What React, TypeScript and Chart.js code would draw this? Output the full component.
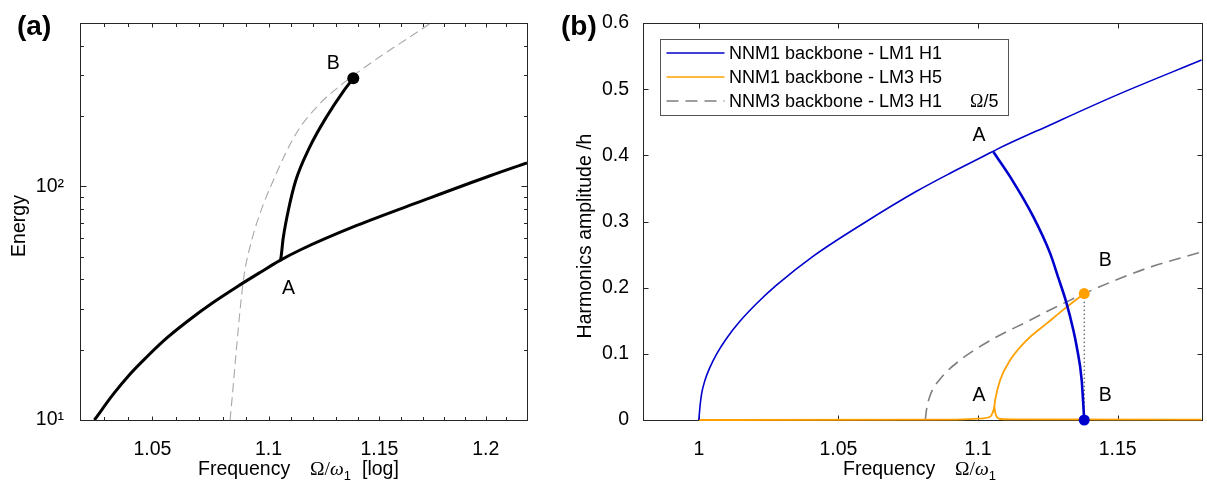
import React, { useEffect, useRef } from 'react';
import { Chart, registerables } from 'chart.js';

Chart.register(...registerables);

const SANS = '"Liberation Sans", Arimo, Arial, Helvetica, sans-serif';
const SERIF = '"Liberation Serif", "DejaVu Serif", "Times New Roman", serif';

// ---------------- Panel (a): energy vs frequency (log-log) ----------------
const energyMainFreq = [1.0259, 1.0337, 1.0406, 1.0476, 1.056, 1.066, 1.076, 1.0861, 1.0963, 1.1051, 1.114, 1.1396, 1.1704, 1.2021, 1.22];
const energyMainValue = [10.0, 12.9, 15.7, 18.6, 22.4, 27.0, 31.9, 37.1, 42.8, 48.2, 53.4, 68.0, 87.1, 111.0, 126.0];

const energyBranchFreq = [1.1051, 1.1053, 1.1065, 1.1088, 1.112, 1.1184, 1.1259, 1.1334, 1.138];
const energyBranchValue = [48.2, 48.4, 60.1, 79.2, 105.4, 147.8, 198.6, 254.5, 290];

const energyNNM3Freq = [1.0832, 1.089, 1.0919, 1.0963, 1.1021, 1.1122, 1.1227, 1.1332, 1.1454, 1.174];
const energyNNM3Value = [10, 39.7, 55.2, 76.7, 106, 168, 225, 275, 334, 500];

const energyPointBFreq = [1.138];
const energyPointBValue = [290];

const energyFreqTicks = [1.02, 1.03, 1.04, 1.05, 1.06, 1.07, 1.08, 1.09, 1.1, 1.11, 1.12, 1.13, 1.14, 1.15, 1.16, 1.17, 1.18, 1.19, 1.2, 1.21, 1.22];
const energyFreqLabelValues = [1.05, 1.1, 1.15, 1.2];
const energyFreqLabels = ['1.05', '1.1', '1.15', '1.2'];
const energyTicks = [10, 20, 30, 40, 50, 60, 70, 80, 90, 100, 200, 300, 400, 500];
const energyLabelValues = [10, 100];
const energyLabels = ['10\u00B9', '10\u00B2'];

const energyLetters = ['B', 'A'];
const energyLetterFreq = [1.1289, 1.1088];
const energyLetterValue = [336, 36.4];

// ---------------- Panel (b): harmonic amplitudes ----------------
const ampMainFreq = [1.0, 1.0004, 1.001, 1.0022, 1.004, 1.0064, 1.0099, 1.0147, 1.0207, 1.0278, 1.0411, 1.06, 1.0781, 1.09, 1.1049, 1.1067, 1.1258, 1.1496, 1.18];
const ampMainValue = [0, 0.02, 0.0398, 0.0602, 0.08, 0.1, 0.1233, 0.1492, 0.1761, 0.2037, 0.248, 0.3, 0.346, 0.373, 0.405, 0.409, 0.446, 0.491, 0.544];

const ampBranchFreq = [1.1055, 1.1115, 1.1198, 1.1258, 1.1288, 1.1315, 1.1341, 1.1353, 1.1371, 1.138];
const ampBranchValue = [0.405, 0.3675, 0.307, 0.2518, 0.214, 0.179, 0.136, 0.111, 0.06, 0];

const orangeBranchFreq = [1.0, 1.09, 1.1, 1.1043, 1.1053, 1.1058, 1.1061, 1.1079, 1.1115, 1.1175, 1.1246, 1.1318, 1.138];
const orangeBranchValue = [0, 0.0005, 0.002, 0.005, 0.012, 0.02, 0.03, 0.0604, 0.0906, 0.121, 0.146, 0.171, 0.191];

const orangeTailFreq = [1.1058, 1.1062, 1.1068, 1.108, 1.115, 1.18];
const orangeTailValue = [0.02, 0.01, 0.004, 0.0015, 0.0008, 0.0005];

const nnm3AmpFreq = [1.0811, 1.0815, 1.0829, 1.0864, 1.0936, 1.1055, 1.1175, 1.1294, 1.138, 1.1496, 1.1616, 1.18];
const nnm3AmpValue = [0, 0.015, 0.038, 0.062, 0.0906, 0.123, 0.1485, 0.174, 0.191, 0.212, 0.231, 0.254];

const bLinkFreq = [1.138, 1.138];
const bLinkValue = [0.191, 0];
const orangeDotFreq = [1.138];
const orangeDotValue = [0.191];
const blueDotFreq = [1.138];
const blueDotValue = [0];

const ampFreqTicks = [1, 1.05, 1.1, 1.15];
const ampFreqLabels = ['1', '1.05', '1.1', '1.15'];
const ampTicks = [0, 0.1, 0.2, 0.3, 0.4, 0.5, 0.6];
const ampTickLabels = ['0', '0.1', '0.2', '0.3', '0.4', '0.5', '0.6'];

const ampLetters = ['A', 'B', 'A', 'B'];
const ampLetterFreq = [1.1003, 1.1455, 1.1003, 1.1455];
const ampLetterValue = [0.4303, 0.2406, 0.0363, 0.0363];

const legendLabels = ['NNM1 backbone - LM1 H1', 'NNM1 backbone - LM3 H5', 'NNM3 backbone - LM3 H1'];

// ---------------- helpers ----------------
const zip = (xs: number[], ys: number[]) => xs.map((x, i) => ({ x, y: ys[i] }));
const near = (a: number, b: number) => Math.abs(a - b) < 1e-9;

const AXIS_FONT = 19.5;
const BLUE = '#0000cc';
const ORANGE = '#ffa000';

type Seg = { text: string; font: string; at?: number; dy?: number };

function drawRich(ctx: CanvasRenderingContext2D, segs: Seg[], x: number, y: number) {
  let cx = x;
  for (const s of segs) {
    ctx.font = s.font;
    if (s.at !== undefined) cx = s.at;
    ctx.fillText(s.text, cx, y + (s.dy || 0));
    cx += ctx.measureText(s.text).width;
  }
}

function framePlugin(xMajor: number, xMinor: number, yMajor: number, yMinor: number) {
  return {
    id: 'frame',
    beforeDatasetsDraw(chart: any) {
      const { ctx, chartArea: a } = chart;
      const xs = chart.scales.x;
      const ys = chart.scales.y;
      const L = Math.round(a.left) + 0.5;
      const R = Math.round(a.right) + 0.5;
      const T = Math.round(a.top) + 0.5;
      const B = Math.round(a.bottom) + 0.5;
      ctx.save();
      ctx.strokeStyle = '#262626';
      ctx.lineWidth = 1;
      ctx.beginPath();
      for (const t of xs.ticks) {
        const p = Math.round(xs.getPixelForValue(t.value)) + 0.5;
        const len = t.major ? xMajor : xMinor;
        ctx.moveTo(p, B); ctx.lineTo(p, B - len);
        ctx.moveTo(p, T); ctx.lineTo(p, T + len);
      }
      for (const t of ys.ticks) {
        const p = Math.round(ys.getPixelForValue(t.value)) + 0.5;
        const len = t.major ? yMajor : yMinor;
        ctx.moveTo(L, p); ctx.lineTo(L + len, p);
        ctx.moveTo(R, p); ctx.lineTo(R - len, p);
      }
      ctx.stroke();
      ctx.strokeRect(L, T, R - L, B - T);
      ctx.restore();
    },
  };
}

type DecorCfg = {
  panel: string;
  panelX: number;
  xTitle: Seg[];
  xTitleX: number;
  yTitle: string;
  yTitleX: number;
  yTitleY: number;
  letters: { text: string; x: number; y: number }[];
  legend?: boolean;
};

function decorPlugin(cfg: DecorCfg) {
  return {
    id: 'decor',
    afterDraw(chart: any) {
      const { ctx, chartArea: a } = chart;
      const xs = chart.scales.x;
      const ys = chart.scales.y;
      ctx.save();
      ctx.fillStyle = '#000';
      ctx.textAlign = 'left';
      ctx.textBaseline = 'alphabetic';
      ctx.font = `bold 28px ${SANS}`;
      ctx.fillText(cfg.panel, cfg.panelX, 35);

      drawRich(ctx, cfg.xTitle, cfg.xTitleX, 475);

      ctx.save();
      ctx.translate(cfg.yTitleX, cfg.yTitleY);
      ctx.rotate(-Math.PI / 2);
      ctx.textAlign = 'center';
      ctx.font = `${AXIS_FONT}px ${SANS}`;
      ctx.fillText(cfg.yTitle, 0, 0);
      ctx.restore();

      ctx.textAlign = 'center';
      ctx.textBaseline = 'middle';
      ctx.font = `${AXIS_FONT}px ${SANS}`;
      for (const l of cfg.letters) {
        ctx.fillText(l.text, xs.getPixelForValue(l.x), ys.getPixelForValue(l.y));
      }

      if (cfg.legend) {
        const bx = Math.round(a.left + 17) + 0.5;
        const by = Math.round(a.top + 16) + 0.5;
        const bw = 348;
        const bh = 76;
        ctx.fillStyle = '#fff';
        ctx.fillRect(bx, by, bw, bh);
        ctx.strokeStyle = '#555';
        ctx.lineWidth = 1;
        ctx.setLineDash([]);
        ctx.strokeRect(bx, by, bw, bh);
        const items = chart.data.datasets.filter((d: any) => d.legendText);
        items.forEach((d: any, i: number) => {
          const ry = by + 13.5 + i * 24;
          ctx.save();
          ctx.strokeStyle = d.borderColor;
          ctx.lineWidth = 1.6;
          ctx.setLineDash(d.borderDash || []);
          ctx.beginPath();
          ctx.moveTo(bx + 6, ry);
          ctx.lineTo(bx + 64, ry);
          ctx.stroke();
          ctx.restore();
          ctx.fillStyle = '#000';
          ctx.textAlign = 'left';
          ctx.textBaseline = 'middle';
          ctx.font = `18px ${SANS}`;
          ctx.fillText(d.legendText, bx + 68.5, ry + 1);
          if (d.legendNote) {
            ctx.font = `18px ${SANS}`;
            const wTail = ctx.measureText('/5').width;
            ctx.font = `18px ${SERIF}`;
            const wOm = ctx.measureText('\u03A9').width;
            const right = bx + bw - 10;
            ctx.fillText('\u03A9', right - wTail - wOm, ry + 1);
            ctx.font = `18px ${SANS}`;
            ctx.fillText('/5', right - wTail, ry + 1);
          }
        });
      }
      ctx.restore();
    },
  };
}

function line(data: { x: number; y: number }[], color: string, width: number, extra: any = {}) {
  return {
    data,
    borderColor: color,
    backgroundColor: color,
    borderWidth: width,
    pointRadius: 0,
    pointHoverRadius: 0,
    cubicInterpolationMode: 'monotone',
    borderJoinStyle: 'round',
    fill: false,
    ...extra,
  };
}

function dot(data: { x: number; y: number }[], color: string, radius: number, order: number) {
  return {
    data,
    showLine: false,
    borderColor: color,
    backgroundColor: color,
    pointRadius: radius,
    pointHoverRadius: radius,
    pointBorderWidth: 0,
    clip: false,
    order,
  };
}

const tickFont = { family: SANS, size: AXIS_FONT };

function configA(): any {
  return {
    type: 'line',
    data: {
      datasets: [
        line(zip(energyNNM3Freq, energyNNM3Value), '#a8a8a8', 1.1, { borderDash: [9, 5], order: 5 }),
        line(zip(energyMainFreq, energyMainValue), '#000', 3, { order: 3 }),
        line(zip(energyBranchFreq, energyBranchValue), '#000', 3, { order: 2 }),
        dot(zip(energyPointBFreq, energyPointBValue), '#000', 6, 1),
      ],
    },
    options: {
      animation: false,
      responsive: false,
      devicePixelRatio: 1,
      events: [],
      layout: { padding: { left: 0, right: 33, top: 23, bottom: 0 } },
      plugins: { legend: { display: false }, tooltip: { enabled: false } },
      scales: {
        x: {
          type: 'logarithmic',
          min: 1.02,
          max: 1.22,
          bounds: 'data',
          afterBuildTicks: (s: any) => {
            s.ticks = energyFreqTicks.map((v) => ({ value: v, major: energyFreqLabelValues.some((l) => near(l, v)) }));
          },
          afterFit: (s: any) => { s.height = 65; },
          grid: { display: false },
          border: { display: false },
          ticks: {
            autoSkip: false,
            maxRotation: 0,
            minRotation: 0,
            padding: 10,
            color: '#000',
            font: tickFont,
            callback: (v: number) => {
              const i = energyFreqLabelValues.findIndex((l) => near(l, v));
              return i >= 0 ? energyFreqLabels[i] : '';
            },
          },
        },
        y: {
          type: 'logarithmic',
          min: 10,
          max: 500,
          bounds: 'data',
          afterBuildTicks: (s: any) => {
            s.ticks = energyTicks.map((v) => ({ value: v, major: energyLabelValues.includes(v) }));
          },
          afterFit: (s: any) => { s.width = 80; },
          grid: { display: false },
          border: { display: false },
          ticks: {
            autoSkip: false,
            padding: 8,
            color: '#000',
            font: tickFont,
            callback: (v: number) => {
              const i = energyLabelValues.findIndex((l) => near(l, v));
              return i >= 0 ? energyLabels[i] : '';
            },
          },
        },
      },
    },
    plugins: [
      framePlugin(4, 3.5, 6, 3.5),
      decorPlugin({
        panel: '(a)',
        panelX: 17,
        xTitle: [
          { text: 'Frequency', font: `${AXIS_FONT}px ${SANS}` },
          { text: '\u03A9/', font: `${AXIS_FONT}px ${SERIF}`, at: 310 },
          { text: '\u03C9', font: `italic ${AXIS_FONT}px ${SERIF}` },
          { text: '1', font: `13px ${SANS}`, dy: 5 },
          { text: '[log]', font: `${AXIS_FONT}px ${SANS}`, at: 362 },
        ],
        xTitleX: 198,
        yTitle: 'Energy',
        yTitleX: 25,
        yTitleY: 226,
        letters: energyLetters.map((t, i) => ({ text: t, x: energyLetterFreq[i], y: energyLetterValue[i] })),
      }),
    ],
  };
}

function configB(): any {
  return {
    type: 'line',
    data: {
      datasets: [
        line(zip(ampMainFreq, ampMainValue), BLUE, 1.6, { legendText: legendLabels[0], clip: false, order: 3 }),
        line(zip(orangeBranchFreq, orangeBranchValue), ORANGE, 1.8, { legendText: legendLabels[1], clip: false, order: 4 }),
        line(zip(nnm3AmpFreq, nnm3AmpValue), '#7f7f7f', 1.6, { borderDash: [12, 7], legendText: legendLabels[2], legendNote: true, order: 6 }),
        line(zip(orangeTailFreq, orangeTailValue), ORANGE, 1.8, { clip: false, order: 4 }),
        line(zip(ampBranchFreq, ampBranchValue), BLUE, 2.6, { clip: false, order: 2 }),
        line(zip(bLinkFreq, bLinkValue), '#333', 1, { borderDash: [1.5, 2.5], cubicInterpolationMode: 'default', order: 5 }),
        dot(zip(orangeDotFreq, orangeDotValue), ORANGE, 5.5, 1),
        dot(zip(blueDotFreq, blueDotValue), BLUE, 5.5, 1),
      ],
    },
    options: {
      animation: false,
      responsive: false,
      devicePixelRatio: 1,
      events: [],
      layout: { padding: { left: 0, right: 5, top: 23, bottom: 0 } },
      plugins: { legend: { display: false }, tooltip: { enabled: false } },
      scales: {
        x: {
          type: 'linear',
          min: 0.98,
          max: 1.18,
          afterBuildTicks: (s: any) => {
            s.ticks = ampFreqTicks.map((v) => ({ value: v, major: true }));
          },
          afterFit: (s: any) => { s.height = 65; },
          grid: { display: false },
          border: { display: false },
          ticks: {
            autoSkip: false,
            maxRotation: 0,
            minRotation: 0,
            padding: 10,
            color: '#000',
            font: tickFont,
            callback: (v: number) => {
              const i = ampFreqTicks.findIndex((l) => near(l, v));
              return i >= 0 ? ampFreqLabels[i] : '';
            },
          },
        },
        y: {
          type: 'linear',
          min: 0,
          max: 0.6,
          afterBuildTicks: (s: any) => {
            s.ticks = ampTicks.map((v) => ({ value: v, major: true }));
          },
          afterFit: (s: any) => { s.width = 83; },
          grid: { display: false },
          border: { display: false },
          ticks: {
            autoSkip: false,
            padding: 6,
            color: '#000',
            font: tickFont,
            callback: (v: number) => {
              const i = ampTicks.findIndex((l) => near(l, v));
              return i >= 0 ? ampTickLabels[i] : '';
            },
          },
        },
      },
    },
    plugins: [
      framePlugin(5, 5, 5, 5),
      decorPlugin({
        panel: '(b)',
        panelX: 1,
        xTitle: [
          { text: 'Frequency', font: `${AXIS_FONT}px ${SANS}` },
          { text: '\u03A9/', font: `${AXIS_FONT}px ${SERIF}`, at: 395 },
          { text: '\u03C9', font: `italic ${AXIS_FONT}px ${SERIF}` },
          { text: '1', font: `13px ${SANS}`, dy: 5 },
        ],
        xTitleX: 283,
        yTitle: 'Harmonics amplitude /h',
        yTitleX: 31,
        yTitleY: 236,
        letters: ampLetters.map((t, i) => ({ text: t, x: ampLetterFreq[i], y: ampLetterValue[i] })),
        legend: true,
      }),
    ],
  };
}

export default function App() {
  const refA = useRef<HTMLCanvasElement>(null);
  const refB = useRef<HTMLCanvasElement>(null);

  useEffect(() => {
    const a = new Chart(refA.current as HTMLCanvasElement, configA());
    const b = new Chart(refB.current as HTMLCanvasElement, configB());
    return () => {
      a.destroy();
      b.destroy();
    };
  }, []);

  return (
    <div style={{ position: 'fixed', left: 0, top: 0, width: 1207, height: 485, background: '#fff' }}>
      <canvas ref={refA} width={560} height={485} style={{ position: 'absolute', left: 0, top: 0, width: 560, height: 485 }} />
      <canvas ref={refB} width={647} height={485} style={{ position: 'absolute', left: 560, top: 0, width: 647, height: 485 }} />
    </div>
  );
}
